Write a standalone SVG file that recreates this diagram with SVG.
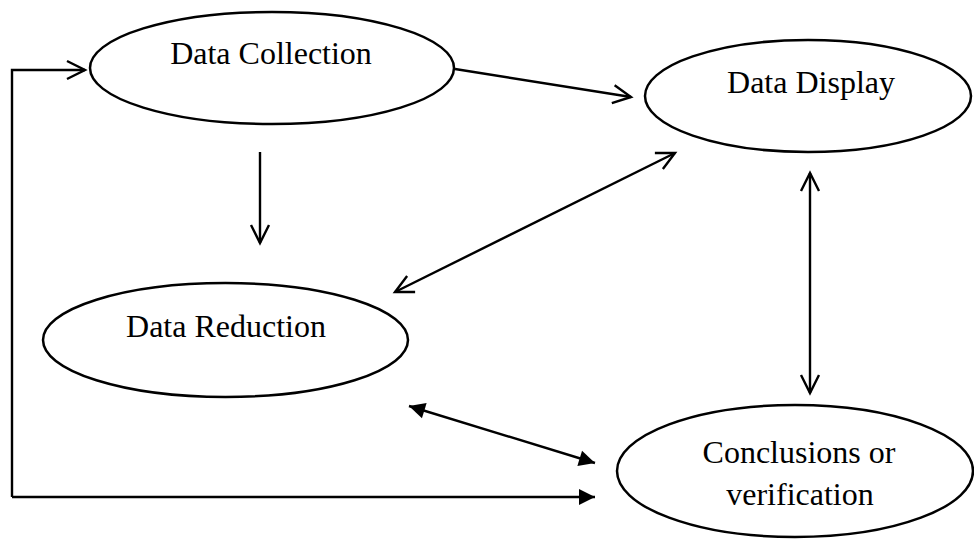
<svg xmlns="http://www.w3.org/2000/svg" width="974" height="539" viewBox="0 0 974 539">
<style>
.node ellipse{fill:#fff;stroke:#000;stroke-width:2.5}
.node text{font-family:"Liberation Serif","Times New Roman",serif;font-size:32px;fill:#000;text-anchor:middle}
.conn line,.conn path{stroke:#000;stroke-width:2.4;fill:none}
.open{marker-end:url(#open)}
.open2{marker-start:url(#open);marker-end:url(#open)}
.fill2{marker-start:url(#solid);marker-end:url(#solid)}
</style>
<defs>
<marker id="open" markerUnits="userSpaceOnUse" markerWidth="40" markerHeight="40" refX="0" refY="0" orient="auto-start-reverse" overflow="visible">
<path d="M-18,-9 L0,0 L-18,9" fill="none" stroke="#000" stroke-width="2.4" stroke-linejoin="miter"/>
</marker>
<marker id="solid" markerUnits="userSpaceOnUse" markerWidth="40" markerHeight="40" refX="0" refY="0" orient="auto-start-reverse" overflow="visible">
<path d="M-16,-8 L0,0 L-16,8 Z" fill="#000"/>
</marker>
</defs>
<rect width="974" height="539" fill="#fff"/>
<g id="collection" class="node">
<ellipse cx="272" cy="68" rx="182" ry="56"/>
<text x="271" y="64">Data Collection</text>
</g>
<g id="display" class="node">
<ellipse cx="808" cy="96" rx="163" ry="56"/>
<text x="811" y="93">Data Display</text>
</g>
<g id="reduction" class="node">
<ellipse cx="225.5" cy="340" rx="182.5" ry="57"/>
<text x="226" y="337">Data Reduction</text>
</g>
<g id="conclusions" class="node">
<ellipse cx="795" cy="471" rx="178" ry="66"/>
<text x="799" y="463">Conclusions or</text>
<text x="800" y="505">verification</text>
</g>
<g id="connectors" class="conn">
<line class="open" x1="455" y1="69" x2="631" y2="97"/>
<line class="open" x1="260" y1="152" x2="260" y2="243"/>
<line class="open2" x1="675" y1="153" x2="395" y2="292"/>
<line class="open2" x1="810" y1="173" x2="810" y2="393"/>
<line class="fill2" x1="409" y1="406" x2="595" y2="463"/>
<path class="open" d="M12,497 L12,70 L85,70"/>
<path d="M12,497 L595,497" style="marker-end:url(#solid)"/>
</g>
</svg>
